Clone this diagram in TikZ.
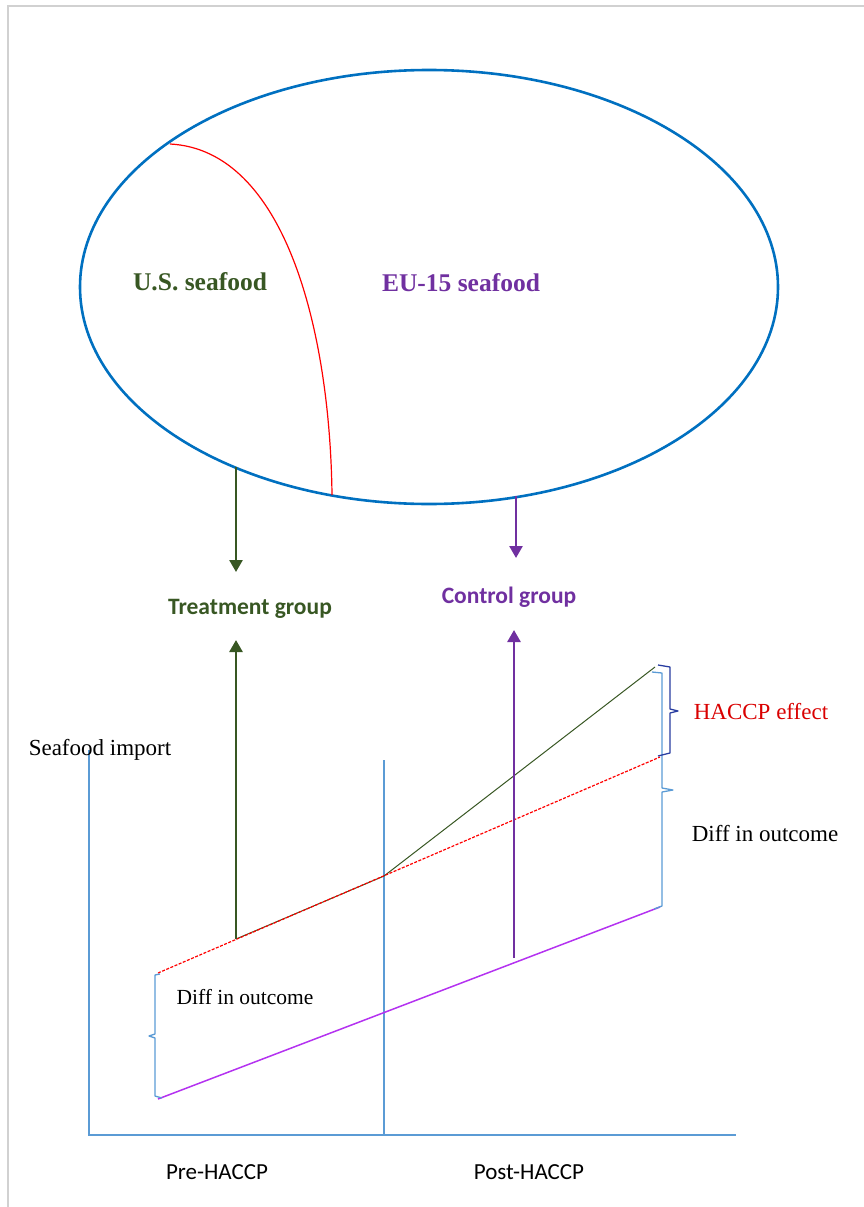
\documentclass[tikz,border=0pt]{standalone}
\usepackage{fontspec}
\setmainfont{Liberation Serif}
\newfontfamily\calibri{Carlito}
\usepackage{tikz}
\usetikzlibrary{arrows.meta}
\definecolor{ellblue}{RGB}{0,112,192}
\definecolor{axblue}{RGB}{91,155,213}
\definecolor{treatgreen}{RGB}{56,87,35}
\definecolor{ctrlpurple}{RGB}{112,48,160}
\definecolor{linepurple}{RGB}{180,50,240}
\definecolor{bracedark}{RGB}{40,60,160}
\newcommand{\TG}[1]{\textcolor{treatgreen}{#1}}
\newcommand{\CP}[1]{\textcolor{ctrlpurple}{#1}}
\newcommand{\HR}[1]{\textcolor{red!85!black}{#1}}

\begin{document}
\begin{tikzpicture}[x=1pt, y=-1pt,
  lbl/.style={inner sep=0pt, font=\fontsize{23}{27}\selectfont},
  grp/.style={inner sep=0pt, font=\calibri\bfseries\fontsize{23.5}{28}\selectfont},
  seafd/.style={inner sep=0pt, font=\bfseries\fontsize{25.5}{30}\selectfont},
  tick/.style={inner sep=0pt, font=\calibri\fontsize{23}{27}\selectfont},
  feedarr/.style={line width=2.6pt, -{Triangle[width=13pt,length=12pt]}},
  ax/.style={axblue, line width=1.3pt},
  brc/.style={axblue, line width=1.3pt, line join=round}]

  \useasboundingbox (0,0) rectangle (864,1207);
  \draw[black!18, line width=1.5pt] (8,1207) -- (8,6) -- (864,6);

  %% the pool of imports
  \draw[ellblue, line width=2.6pt] (429,287) ellipse [x radius=349, y radius=217];
  \coordinate (spl) at (170,144);
  \coordinate (spr) at (332,495);
  \draw[red, line width=1.2pt] (spl) .. controls (285,150) and (330,330) .. (spr);
  \node[seafd] (us) at (200,282) {\TG{U.S. seafood}};
  \node[seafd] (eu) at (461,283) {\CP{EU-15 seafood}};

  %% groups
  \node[grp] (tg) at (250,609) {\TG{Treatment group}};
  \node[grp] (cg) at (509,597) {\CP{Control group}};
  \coordinate (usout) at (236,467);
  \coordinate (usin)  at (236,572);
  \coordinate (euout) at (516,496);
  \coordinate (euin)  at (516,558);
  \coordinate (tgin)  at (236,640);
  \coordinate (cgin)  at (514,630);
  \draw[feedarr, treatgreen] (usout) -- (usin);
  \draw[feedarr, ctrlpurple] (euout) -- (euin);

  %% axes
  \coordinate (o)    at (89,1135);
  \coordinate (ytop) at (89,750);
  \coordinate (xend) at (736,1135);
  \coordinate (cut)  at (384,760);
  \coordinate (cutb) at (384,1135);
  \draw[ax] (ytop) -- (o) -- (xend);
  \draw[ax] (cut) -- (cutb);
  \node[lbl] (yl)   at (100,750)  {Seafood import};
  \node[tick] (pre)  at (217,1172) {Pre-HACCP};
  \node[tick] (post) at (529,1172) {Post-HACCP};

  %% outcome lines
  \coordinate (t0) at (158,973);
  \coordinate (t1) at (236,939);
  \coordinate (tm) at (384,876);
  \coordinate (t2) at (655,667);
  \coordinate (tc) at (660,757);
  \coordinate (c0) at (158,1099);
  \coordinate (c2) at (660,907);
  \coordinate (cb) at (514,958);
  \draw[treatgreen, line width=1pt] (t1) -- (tm) -- (t2);
  \draw[red, line width=1.2pt, dash pattern=on 3pt off 1.5pt] (t0) -- (tc);
  \draw[linepurple, line width=1.5pt] (c0) -- (c2);
  \draw[feedarr, treatgreen] (t1) -- (tgin);
  \draw[feedarr, ctrlpurple] (cb) -- (cgin);

  %% braces
  \draw[brc] (652,672) -- (662,673) -- (662,788) -- (673,790) -- (662,792) -- (662,906) -- (654,909);
  \draw[brc, bracedark] (658,665) -- (670,667) -- (670,709) -- (678,711) -- (670,713) -- (670,753) -- (658,756);
  \draw[brc] (160,974) -- (155,975) -- (155,1034) -- (149,1036) -- (155,1038) -- (155,1096) -- (162,1098);
  \node[lbl] (eff)  at (761,712) {\HR{HACCP effect}};
  \node[lbl] (dr)   at (765,834) {Diff in outcome};
  \node[lbl, font=\fontsize{21.5}{26}\selectfont] (dl) at (245,997) {Diff in outcome};

\end{tikzpicture}
\end{document}
